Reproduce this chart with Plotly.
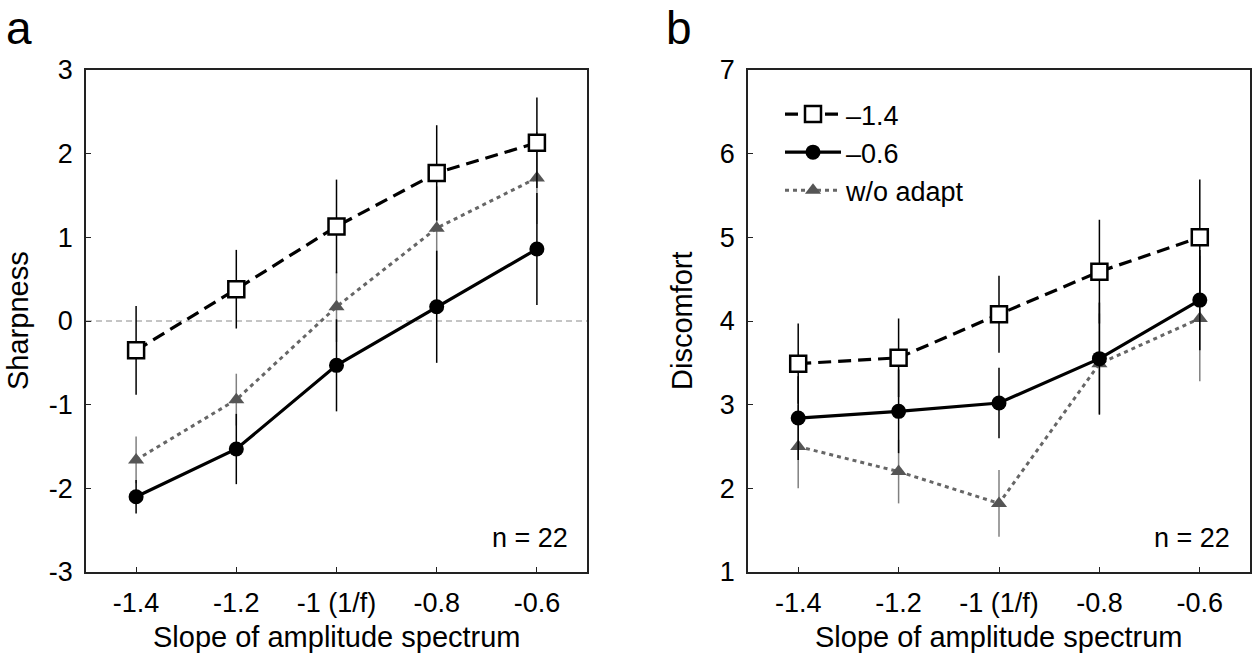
import plotly.graph_objects as go

# ---------------- data ----------------
slopes = [-1.4, -1.2, -1.0, -0.8, -0.6]
slope_labels = ["-1.4", "-1.2", "-1 (1/f)", "-0.8", "-0.6"]
series_names = ["\u20131.4", "\u20130.6", "w/o adapt"]

sharp_m14 = [-0.35, 0.38, 1.13, 1.77, 2.13]
sharp_m14_err = [0.53, 0.47, 0.56, 0.57, 0.54]
sharp_m06 = [-2.10, -1.53, -0.53, 0.17, 0.86]
sharp_m06_err = [0.20, 0.42, 0.55, 0.67, 0.67]
sharp_none = [-1.66, -0.94, 0.17, 1.11, 1.71]
sharp_none_err = [0.28, 0.31, 0.42, 0.50, 0.55]

disc_m14 = [3.49, 3.56, 4.08, 4.59, 5.00]
disc_m14_err = [0.48, 0.47, 0.46, 0.62, 0.69]
disc_m06 = [2.84, 2.92, 3.02, 3.55, 4.25]
disc_m06_err = [0.50, 0.50, 0.42, 0.67, 0.60]
disc_none = [2.50, 2.20, 1.82, 3.49, 4.03]
disc_none_err = [0.50, 0.38, 0.40, 0.60, 0.75]

sharp_ticks = [3, 2, 1, 0, -1, -2, -3]
disc_ticks = [7, 6, 5, 4, 3, 2, 1]

W, H = 1254, 660
FONT = "Liberation Sans, Arial, Helvetica, sans-serif"

def px(x):
    return x / W

def py(y):
    return 1 - y / H

fig = go.Figure()

styles = {
    "none": dict(line=dict(color="#666666", width=3, dash="4px,4px"),
                 marker=dict(symbol="triangle-up", size=14, color="#555555",
                             line=dict(width=0)),
                 ecolor="#808080"),
    "m06": dict(line=dict(color="black", width=3.2),
                marker=dict(symbol="circle", size=15, color="black",
                            line=dict(width=0)),
                ecolor="black"),
    "m14": dict(line=dict(color="black", width=3.2, dash="13px,7px"),
                marker=dict(symbol="square", size=16, color="white",
                            line=dict(width=2.5, color="black")),
                ecolor="black"),
}

def add_series(xaxis, yaxis, ys, errs, key, name, show):
    st = styles[key]
    fig.add_trace(go.Scatter(
        x=slopes, y=ys, mode="lines+markers", name=name,
        xaxis=xaxis, yaxis=yaxis, showlegend=show, legendgroup=key,
        line=st["line"], marker=st["marker"],
        error_y=dict(type="data", array=errs, visible=True,
                     color=st["ecolor"], thickness=1.5, width=0),
    ))

add_series("x", "y", sharp_none, sharp_none_err, "none", series_names[2], False)
add_series("x", "y", sharp_m06, sharp_m06_err, "m06", series_names[1], False)
add_series("x", "y", sharp_m14, sharp_m14_err, "m14", series_names[0], False)
add_series("x2", "y2", disc_none, disc_none_err, "none", series_names[2], True)
add_series("x2", "y2", disc_m06, disc_m06_err, "m06", series_names[1], True)
add_series("x2", "y2", disc_m14, disc_m14_err, "m14", series_names[0], True)

ranks = {series_names[0]: 1, series_names[1]: 2, series_names[2]: 3}
for tr in fig.data:
    tr.legendrank = ranks[tr.name]

ydom = [py(572), py(70)]
axis_common = dict(
    showgrid=False, zeroline=False, showline=True, linecolor="#222222",
    linewidth=1.5, mirror=True, ticks="inside", ticklen=5, tickwidth=1,
    tickcolor="#222222", tickfont=dict(size=27, color="black", family=FONT),
    automargin=False,
)

fig.update_layout(
    width=W, height=H,
    margin=dict(l=0, r=0, t=0, b=0, pad=0),
    paper_bgcolor="white", plot_bgcolor="white",
    font=dict(family=FONT, color="black"),
    xaxis=dict(domain=[px(86), px(587)], range=[-1.5, -0.5],
               tickvals=slopes, ticktext=slope_labels, ticklabelstandoff=6,
               anchor="y", **axis_common),
    yaxis=dict(domain=ydom, range=[-3, 3], tickvals=sharp_ticks,
               ticktext=[str(t) for t in sharp_ticks], ticklabelstandoff=6,
               anchor="x", **axis_common),
    xaxis2=dict(domain=[px(748), px(1250)], range=[-1.5, -0.5],
                tickvals=slopes, ticktext=slope_labels, ticklabelstandoff=6,
                anchor="y2", **axis_common),
    yaxis2=dict(domain=ydom, range=[1, 7], tickvals=disc_ticks,
                ticktext=[str(t) for t in disc_ticks], ticklabelstandoff=6,
                anchor="x2", **axis_common),
    legend=dict(x=px(780), y=py(90), xanchor="left", yanchor="top",
                bgcolor="rgba(0,0,0,0)", font=dict(size=27, family=FONT),
                itemwidth=56, tracegroupgap=0, traceorder="normal"),
    showlegend=True,
)

# zero reference line in panel a
fig.add_shape(type="line", xref="x domain", yref="y", x0=0, x1=1, y0=0, y1=0,
              line=dict(color="#8a8a8a", width=1, dash="6px,4px"), layer="below")

ann = [
    dict(text="a", x=px(4), y=py(28), size=46, xanchor="left"),
    dict(text="b", x=px(664), y=py(28), size=46, xanchor="left"),
    dict(text="Slope of amplitude spectrum", x=px(337), y=py(637), size=29, xanchor="center"),
    dict(text="Slope of amplitude spectrum", x=px(999), y=py(637), size=29, xanchor="center"),
    dict(text="n = 22", x=px(570), y=py(538), size=27, xanchor="right"),
    dict(text="n = 22", x=px(1232), y=py(538), size=27, xanchor="right"),
]
for a in ann:
    fig.add_annotation(text=a["text"], x=a["x"], y=a["y"], xref="paper", yref="paper",
                       xanchor=a["xanchor"], yanchor="middle", showarrow=False,
                       font=dict(size=a["size"], color="black", family=FONT))

for txt, xx in [("Sharpness", 18), ("Discomfort", 682)]:
    fig.add_annotation(text=txt, x=px(xx), y=py(321), xref="paper", yref="paper",
                       textangle=-90, xanchor="center", yanchor="middle",
                       showarrow=False, font=dict(size=29, color="black", family=FONT))

fig.write_html("out.html", config={"displayModeBar": False},
               post_script="document.body.style.margin='0';document.body.style.overflow='hidden';")
